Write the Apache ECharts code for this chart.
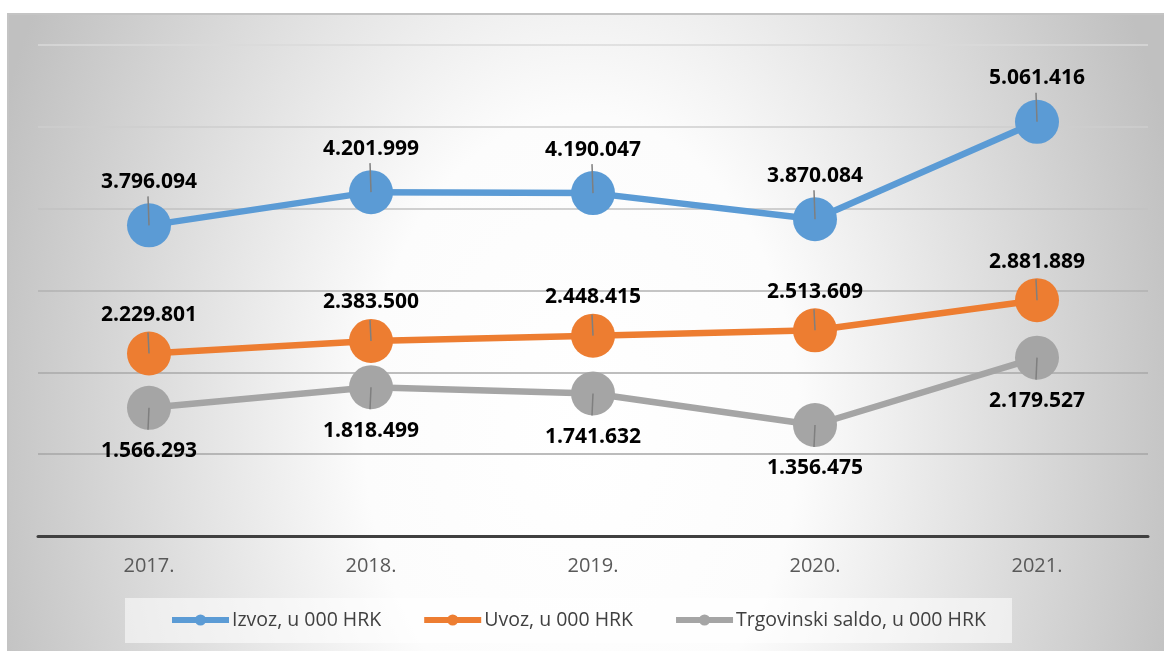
<!DOCTYPE html>
<html>
<head>
<meta charset="utf-8">
<script src="https://cdn.jsdelivr.net/npm/echarts@6/dist/echarts.min.js"></script>
<style>
html,body{margin:0;padding:0;background:#fff;}
#chart{width:1164px;height:651px;}
</style>
</head>
<body>
<div id="chart"></div>
<script>
// ---- data ----
const years = ['2017.', '2018.', '2019.', '2020.', '2021.'];
const izvoz = [3796094, 4201999, 4190047, 3870084, 5061416];
const uvoz = [2229801, 2383500, 2448415, 2513609, 2881889];
const saldo = [1566293, 1818499, 1741632, 1356475, 2179527];
const seriesNames = ['Izvoz, u 000 HRK', 'Uvoz, u 000 HRK', 'Trgovinski saldo, u 000 HRK'];

const colors = ['#5b9bd5', '#ed7d31', '#a5a5a5'];
const FONT = 'Open Sans';

function fmt(v) {
  return String(v).replace(/\B(?=(\d{3})+(?!\d))/g, '.');
}

function lineSeries(name, data, color, pos, dist) {
  return {
    name: name,
    type: 'line',
    data: data,
    symbol: 'circle',
    symbolSize: 44,
    z: 3,
    itemStyle: { color: color },
    lineStyle: { color: color, width: 6.5 },
    emphasis: { disabled: true },
    label: {
      show: true,
      position: pos,
      distance: dist,
      formatter: p => fmt(p.value),
      fontFamily: FONT,
      fontSize: 21,
      fontWeight: 'bold',
      color: '#000'
    }
  };
}

function leaderSeries(data, len) {
  return {
    type: 'custom',
    silent: true,
    z: 4,
    data: data.map((v, i) => [i, v]),
    renderItem: function (params, api) {
      const p = api.coord([api.value(0), api.value(1)]);
      return {
        type: 'line',
        shape: { x1: p[0], y1: p[1], x2: p[0] - 1, y2: p[1] + len },
        style: { stroke: '#7f7f7f', lineWidth: 1.5 }
      };
    }
  };
}

// background ellipse gradient via scaled rect
const k = 900 / 620;
const chart = echarts.init(document.getElementById('chart'), null, { renderer: 'canvas' });
chart.setOption({
  animation: false,
  backgroundColor: '#ffffff',
  graphic: [
    {
      type: 'rect', z: -20, silent: true,
      x: 8, y: 14, scaleY: k,
      shape: { x: 0, y: 0, width: 1170, height: 640 / k },
      style: {
        fill: {
          type: 'radial', global: true,
          x: 574, y: 416 / k, r: 620,
          colorStops: [
            { offset: 0, color: '#ffffff' },
            { offset: 0.35, color: '#fcfcfc' },
            { offset: 1, color: '#c0c0c0' }
          ]
        }
      }
    },
    {
      type: 'rect', z: -19, silent: true,
      shape: { x: 8, y: 14, width: 1170, height: 650 },
      style: { fill: 'none', stroke: '#c4c4c4', lineWidth: 2 }
    },
    {
      type: 'rect', z: -18, silent: true,
      shape: { x: 125, y: 598, width: 887, height: 45 },
      style: { fill: 'rgba(255,255,255,0.55)' }
    }
  ],
  grid: { left: 38, right: 16, top: 45, bottom: 115, containLabel: false },
  xAxis: {
    type: 'category',
    data: years,
    boundaryGap: true,
    axisTick: { show: false },
    axisLine: { lineStyle: { color: '#404040', width: 3 } },
    axisLabel: { color: '#595959', fontFamily: FONT, fontSize: 20, margin: 20 }
  },
  yAxis: {
    type: 'value',
    min: 0,
    max: 6000000,
    interval: 1000000,
    axisLabel: { show: false },
    axisLine: { show: false },
    axisTick: { show: false },
    splitLine: {
      lineStyle: {
        width: 1.5,
        color: ['#a0a0a0', '#a6a6a6', '#a8a8a8', '#b2b2b2', '#c2c2c2', '#cecece', '#dadada']
      }
    }
  },
  legend: {
    data: seriesNames,
    left: 169,
    top: 610,
    padding: 0,
    itemWidth: 57,
    itemHeight: 14,
    itemGap: 40,
    lineStyle: { width: 6 },
    textStyle: { color: '#404040', fontFamily: FONT, fontSize: 19.5, padding: [0, 0, 0, -2] },
    selectedMode: false
  },
  series: [
    lineSeries(seriesNames[0], izvoz, colors[0], 'top', 11),
    lineSeries(seriesNames[1], uvoz, colors[1], 'top', 6),
    lineSeries(seriesNames[2], saldo, colors[2], 'bottom', 11),
    leaderSeries(izvoz, -29),
    leaderSeries(uvoz, -21),
    leaderSeries(saldo, 22)
  ]
});
</script>
</body>
</html>
